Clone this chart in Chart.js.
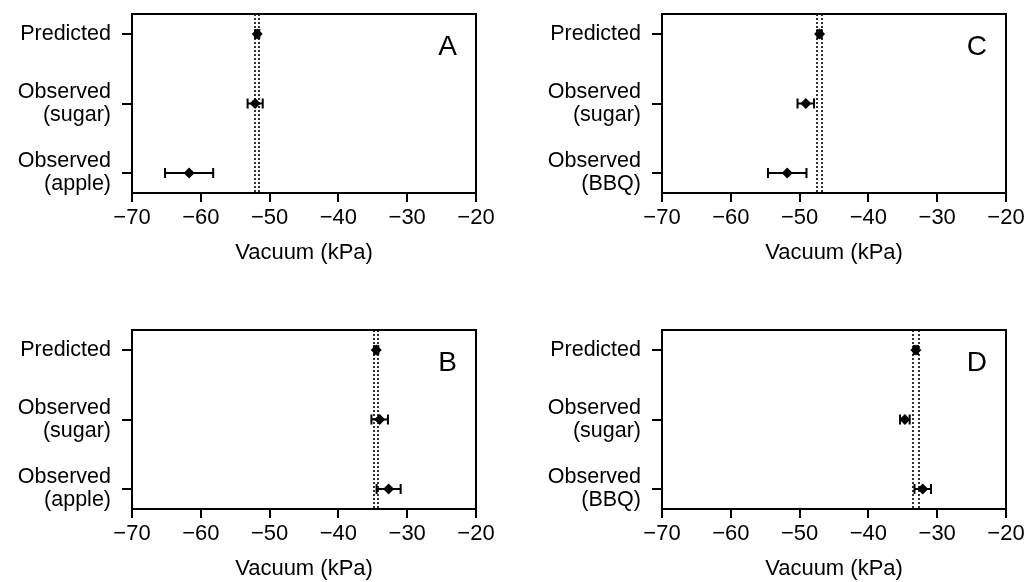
<!DOCTYPE html>
<html>
<head>
<meta charset="utf-8">
<script src="https://cdn.jsdelivr.net/npm/chart.js@4.4.0/dist/chart.umd.min.js"></script>
<style>
  html, body { margin: 0; padding: 0; background: #fff; overflow: hidden; }
  canvas { position: absolute; }
</style>
</head>
<body>
<canvas id="chartA" width="496" height="266" style="left:0;top:0"></canvas>
<canvas id="chartC" width="496" height="266" style="left:530px;top:0"></canvas>
<canvas id="chartB" width="496" height="266" style="left:0;top:316px"></canvas>
<canvas id="chartD" width="496" height="266" style="left:530px;top:316px"></canvas>
<script>
const xTicks = [-70, -60, -50, -40, -30, -20];
const rowsApple = ["Predicted", ["Observed", "(sugar)"], ["Observed", "(apple)"]];
const rowsBBQ = ["Predicted", ["Observed", "(sugar)"], ["Observed", "(BBQ)"]];

// mean vacuum (kPa), error half-width, predicted band edges
const meanA = [-51.8, -52.1, -61.7];
const errA = [0.3, 1.1, 3.5];
const bandA = [-52.1, -51.5];

const meanB = [-34.5, -34.0, -32.7];
const errB = [0.3, 1.2, 1.75];
const bandB = [-34.8, -34.2];

const meanC = [-47.1, -49.1, -51.8];
const errC = [0.3, 1.2, 2.8];
const bandC = [-47.4, -46.8];

const meanD = [-33.1, -34.7, -32.1];
const errD = [0.3, 0.7, 1.2];
const bandD = [-33.5, -32.7];

const FONT = "'Liberation Sans', Arial, Helvetica, sans-serif";

function minus(v) {
  return v < 0 ? "\u2212" + Math.abs(v) : String(v);
}

const errorBars = {
  id: "errorBars",
  beforeDatasetsDraw(chart, args, opts) {
    const { ctx, chartArea, scales: { x, y } } = chart;
    ctx.save();
    ctx.beginPath();
    ctx.rect(chartArea.left, chartArea.top, chartArea.width, chartArea.height);
    ctx.clip();
    ctx.strokeStyle = "#000";
    ctx.lineWidth = 1.6;
    ctx.setLineDash([2, 2]);
    opts.band.forEach(v => {
      const px = Math.round(x.getPixelForValue(v));
      ctx.beginPath();
      ctx.moveTo(px, chartArea.top);
      ctx.lineTo(px, chartArea.bottom);
      ctx.stroke();
    });
    ctx.setLineDash([]);
    ctx.lineWidth = 2;
    opts.mean.forEach((m, i) => {
      const py = y.getPixelForValue(i);
      const x0 = x.getPixelForValue(m - opts.err[i]);
      const x1 = x.getPixelForValue(m + opts.err[i]);
      ctx.beginPath();
      ctx.moveTo(x0, py); ctx.lineTo(x1, py);
      ctx.moveTo(x0, py - 5); ctx.lineTo(x0, py + 5);
      ctx.moveTo(x1, py - 5); ctx.lineTo(x1, py + 5);
      ctx.stroke();
    });
    ctx.restore();
  }
};

const frameAndLetter = {
  id: "frameAndLetter",
  afterDraw(chart, args, opts) {
    const { ctx, chartArea } = chart;
    ctx.save();
    ctx.strokeStyle = "#000";
    ctx.lineWidth = 2;
    ctx.beginPath();
    ctx.moveTo(chartArea.left, chartArea.top);
    ctx.lineTo(chartArea.right, chartArea.top);
    ctx.lineTo(chartArea.right, chartArea.bottom);
    ctx.stroke();
    ctx.fillStyle = "#000";
    ctx.font = "28px " + FONT;
    ctx.textAlign = "right";
    ctx.textBaseline = "alphabetic";
    ctx.fillText(opts.text, chartArea.right - 19, chartArea.top + 41);
    ctx.restore();
  }
};

function makePanel(id, letter, rows, mean, err, band) {
  new Chart(document.getElementById(id), {
    type: "scatter",
    data: {
      datasets: [{
        data: mean.map((m, i) => ({ x: m, y: i })),
        pointStyle: "rectRot",
        pointRadius: 5.5,
        borderWidth: 0,
        backgroundColor: "#000",
        borderColor: "#000"
      }]
    },
    options: {
      responsive: false,
      animation: false,
      layout: { padding: { top: 14, right: 20, left: 0, bottom: 0 } },
      plugins: {
        legend: { display: false },
        tooltip: { enabled: false },
        errorBars: { mean: mean, err: err, band: band },
        frameAndLetter: { text: letter }
      },
      scales: {
        x: {
          type: "linear",
          min: -70,
          max: -20,
          afterBuildTicks: s => { s.ticks = xTicks.map(v => ({ value: v })); },
          afterFit: s => { s.height = 73; s.paddingLeft = 0; s.paddingRight = 0; },
          grid: { drawOnChartArea: false, tickLength: 9, color: "#000", lineWidth: 2 },
          border: { color: "#000", width: 2 },
          ticks: {
            color: "#000",
            font: { family: FONT, size: 22 },
            padding: 3,
            maxRotation: 0,
            callback: v => minus(v)
          },
          title: {
            display: true,
            text: "Vacuum (kPa)",
            color: "#000",
            font: { family: FONT, size: 22 },
            padding: 0
          }
        },
        y: {
          type: "linear",
          min: -0.29,
          max: 2.29,
          reverse: true,
          afterBuildTicks: s => { s.ticks = rows.map((r, i) => ({ value: i })); },
          afterFit: s => { s.width = 132; s.paddingTop = 0; s.paddingBottom = 0; },
          grid: { drawOnChartArea: false, tickLength: 10, color: "#000", lineWidth: 2 },
          border: { color: "#000", width: 2 },
          ticks: {
            color: "#000",
            font: { family: FONT, size: 21.5, lineHeight: 1.06 },
            padding: 11,
            callback: v => rows[v]
          }
        }
      }
    },
    plugins: [errorBars, frameAndLetter]
  });
}

makePanel("chartA", "A", rowsApple, meanA, errA, bandA);
makePanel("chartC", "C", rowsBBQ, meanC, errC, bandC);
makePanel("chartB", "B", rowsApple, meanB, errB, bandB);
makePanel("chartD", "D", rowsBBQ, meanD, errD, bandD);
</script>
</body>
</html>
